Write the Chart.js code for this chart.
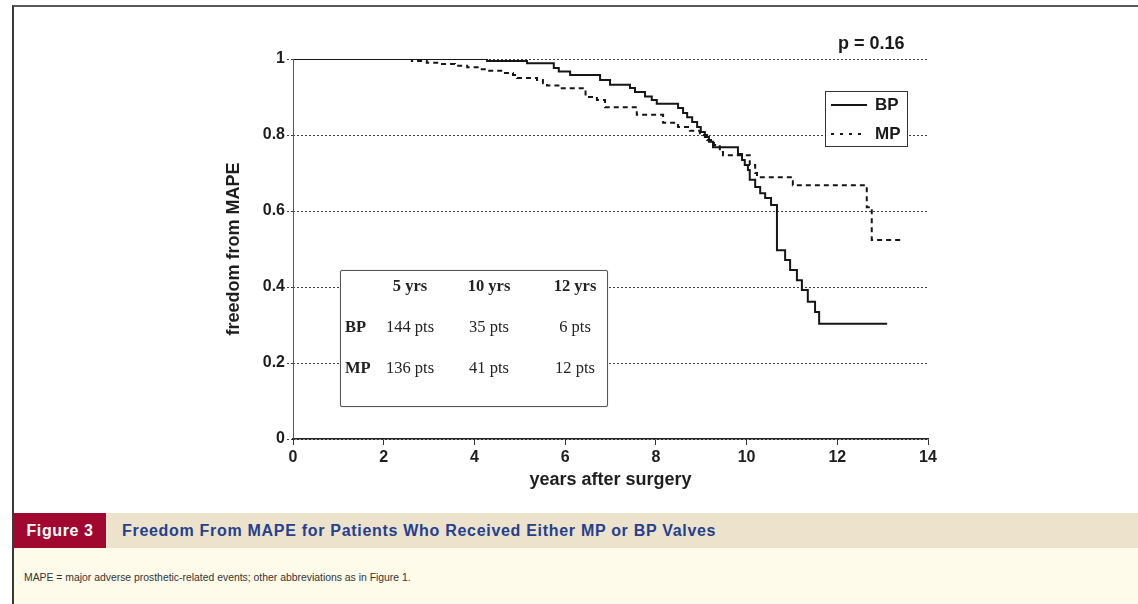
<!DOCTYPE html>
<html>
<head>
<meta charset="utf-8">
<script src="https://cdn.jsdelivr.net/npm/chart.js@4/dist/chart.umd.min.js"></script>
<style>
  html, body { margin: 0; padding: 0; }
  body { width: 1138px; height: 604px; position: relative; overflow: hidden; background: #fff;
         font-family: "Liberation Sans", Arial, sans-serif; }
  #frame { position: absolute; left: 12px; top: 5px; width: 1140px; height: 620px;
           border-left: 2px solid #3a3a3a; border-top: 2px solid #5a5a5a; box-sizing: border-box; }
  #km { position: absolute; left: 0; top: 0; }
  #pval { position: absolute; left: 838px; top: 33px; font: bold 18px "Liberation Sans", Arial, sans-serif; color: #1a1a1a; }
  #legend { position: absolute; left: 825px; top: 91px; width: 83px; height: 56px; box-sizing: border-box;
            border: 1px solid #333; background: #fff; }
  #legend .row { position: absolute; left: 5px; height: 20px; display: flex; align-items: center; }
  #legend svg { width: 36px; height: 6px; margin-right: 8px; }
  #legend span { font: bold 17px "Liberation Sans", Arial, sans-serif; color: #1a1a1a; }
  #atrisk { position: absolute; left: 340px; top: 270px; width: 268px; height: 137px; box-sizing: border-box;
            border: 1.5px solid #555; border-radius: 2px; background: #fff; box-shadow: 0 0 1px #999;
            font-family: "Liberation Serif", "Times New Roman", serif; font-size: 16.5px; color: #222; }
  #atrisk div { position: absolute; white-space: nowrap; transform: translateX(-50%); }
  #atrisk .b { font-weight: bold; }
  #band { position: absolute; left: 14px; top: 513px; width: 1130px; height: 35px; background: #ede3cc; }
  #figtag { position: absolute; left: 14px; top: 513px; width: 92px; height: 35px; background: #a1082f;
            color: #fff; font: bold 16px "Liberation Sans", Arial, sans-serif; letter-spacing: 0.6px;
            line-height: 35px; text-align: center; }
  #figtitle { position: absolute; left: 122px; top: 513px; color: #24408e;
              font: bold 16px "Liberation Sans", Arial, sans-serif; letter-spacing: 0.7px; line-height: 35px; white-space: nowrap; }
  #notes { position: absolute; left: 14px; top: 548px; width: 1130px; height: 60px; background: #fffbea; }
  #foot { position: absolute; left: 24px; top: 572px; font: 10.4px "Liberation Sans", Arial, sans-serif; color: #333; white-space: nowrap; }
</style>
</head>
<body>
<div id="frame"></div>
<canvas id="km" width="1138" height="604"></canvas>
<div id="pval"></div>
<div id="legend"></div>
<div id="atrisk"></div>
<div id="band"></div>
<div id="figtag">Figure 3</div>
<div id="figtitle">Freedom From MAPE for Patients Who Received Either MP or BP Valves</div>
<div id="notes"></div>
<div id="foot">MAPE = major adverse prosthetic-related events; other abbreviations as in Figure 1.</div>
<script>
// Kaplan-Meier freedom from MAPE, biological prostheses (BP)
const bpYears = [0, 4.28, 5.16, 5.75, 5.86, 6.11, 6.77, 6.99, 7.43, 7.54, 7.76, 7.91, 8.02, 8.49, 8.60, 8.69,
  8.80, 8.91, 8.99, 9.08, 9.17, 9.26, 9.81, 9.90, 9.96, 10.03, 10.07, 10.19, 10.30, 10.41, 10.54, 10.67,
  10.85, 10.96, 11.11, 11.22, 11.35, 11.51, 11.60, 13.10];
const bpFreedom = [1, 0.995, 0.989, 0.976, 0.967, 0.958, 0.945, 0.932, 0.924, 0.913, 0.901, 0.892, 0.882, 0.871,
  0.858, 0.847, 0.834, 0.821, 0.808, 0.795, 0.782, 0.768, 0.750, 0.734, 0.721, 0.708, 0.682, 0.663, 0.647,
  0.634, 0.616, 0.497, 0.471, 0.445, 0.418, 0.392, 0.361, 0.334, 0.303, 0.303];

// Kaplan-Meier freedom from MAPE, mechanical prostheses (MP)
const mpYears = [0, 2.62, 2.95, 3.24, 3.57, 3.84, 4.12, 4.28, 4.63, 4.85, 4.94, 5.38, 5.51, 5.60, 5.89, 6.45,
  6.70, 6.88, 7.58, 8.16, 8.49, 8.75, 8.97, 9.13, 9.28, 9.41, 9.48, 10.07, 10.19, 10.23, 11.02, 12.65, 12.76, 13.45];
const mpFreedom = [1, 0.995, 0.990, 0.987, 0.982, 0.978, 0.973, 0.969, 0.963, 0.958, 0.950, 0.945, 0.936, 0.930,
  0.923, 0.900, 0.892, 0.873, 0.853, 0.832, 0.821, 0.811, 0.800, 0.787, 0.774, 0.755, 0.747, 0.721, 0.700,
  0.689, 0.668, 0.610, 0.524, 0.524];

// Axis ticks
const xTicks = [0, 2, 4, 6, 8, 10, 12, 14];
const yTicks = [0, 0.2, 0.4, 0.6, 0.8, 1];

// Patients at risk
const riskHeaders = ['5 yrs', '10 yrs', '12 yrs'];
const bpAtRisk = ['144 pts', '35 pts', '6 pts'];
const mpAtRisk = ['136 pts', '41 pts', '12 pts'];

const seriesNames = ['BP', 'MP'];
const pValueText = 'p = 0.16';

const toPoints = (xs, ys) => xs.map((x, i) => ({ x: x, y: ys[i] }));
const ink = '#161616';
const tickFont = { family: '"Liberation Sans", Arial, sans-serif', size: 16, weight: 'bold' };
const titleFont = { family: '"Liberation Sans", Arial, sans-serif', size: 18, weight: 'bold' };

// Solid left axis line (the y border option carries the dotted grid dash, so the axis is stroked here)
const solidYAxis = {
  id: 'solidYAxis',
  afterDatasetsDraw(chart) {
    const { ctx } = chart;
    const y = chart.scales.y;
    ctx.save();
    ctx.setLineDash([]);
    ctx.strokeStyle = '#555';
    ctx.lineWidth = 1;
    ctx.beginPath();
    ctx.moveTo(y.right + 0.5, y.top);
    ctx.lineTo(y.right + 0.5, y.bottom);
    ctx.stroke();
    ctx.restore();
  }
};

new Chart(document.getElementById('km'), {
  type: 'line',
  data: {
    datasets: [
      { label: seriesNames[0], data: toPoints(bpYears, bpFreedom), stepped: 'before',
        borderColor: ink, borderWidth: 2, pointRadius: 0, fill: false },
      { label: seriesNames[1], data: toPoints(mpYears, mpFreedom), stepped: 'before',
        borderColor: ink, borderWidth: 2, borderDash: [5, 4], pointRadius: 0, fill: false }
    ]
  },
  options: {
    responsive: false,
    animation: false,
    devicePixelRatio: 1,
    layout: { padding: { left: 223, right: 210, top: 59, bottom: 113 } },
    plugins: { legend: { display: false }, tooltip: { enabled: false } },
    scales: {
      x: {
        type: 'linear', min: 0, max: 14,
        afterBuildTicks: (s) => { s.ticks = xTicks.map(v => ({ value: v })); },
        afterFit: (s) => { s.height = 52; },
        ticks: { color: '#1e1e1e', font: tickFont, padding: 3, maxRotation: 0 },
        grid: { drawOnChartArea: false, drawTicks: true, tickLength: 6, color: '#333', lineWidth: 1 },
        border: { display: true, color: '#222', width: 1.5 },
        title: { display: true, text: 'years after surgery', color: '#1e1e1e', font: titleFont, padding: 0 }
      },
      y: {
        type: 'linear', min: 0, max: 1,
        afterBuildTicks: (s) => { s.ticks = yTicks.map(v => ({ value: v })); },
        afterFit: (s) => { s.width = 70; },
        ticks: { color: '#1e1e1e', font: tickFont, padding: 2, callback: (v) => String(v) },
        grid: { drawOnChartArea: true, drawTicks: true, tickLength: 6, color: '#3c3c3c', lineWidth: 1,
                tickBorderDash: [2, 2] },
        border: { display: false, color: '#555', width: 1, dash: [2, 2] },
        title: { display: true, text: 'freedom from MAPE', color: '#1e1e1e', font: titleFont, padding: 0 }
      }
    }
  },
  plugins: [solidYAxis]
});

// p-value label
document.getElementById('pval').textContent = pValueText;

// legend box
const legend = document.getElementById('legend');
[[seriesNames[0], ''], [seriesNames[1], '3 6']].forEach(([name, dash], i) => {
  const row = document.createElement('div');
  row.className = 'row';
  row.style.top = (3 + i * 29) + 'px';
  row.innerHTML = '<svg viewBox="0 0 36 6"><line x1="0" y1="3" x2="36" y2="3" stroke="' + ink +
    '" stroke-width="2"' + (dash ? ' stroke-dasharray="' + dash + '"' : '') + '/></svg><span>' + name + '</span>';
  legend.appendChild(row);
});

// patients-at-risk table
const table = document.getElementById('atrisk');
const colX = [69, 148, 234];
const rowY = [5, 46, 87];
function cell(text, x, y, bold, left) {
  const d = document.createElement('div');
  d.textContent = text;
  if (bold) d.className = 'b';
  d.style.left = x + 'px';
  d.style.top = y + 'px';
  if (left) d.style.transform = 'none';
  table.appendChild(d);
}
riskHeaders.forEach((h, i) => cell(h, colX[i], rowY[0], true));
cell(seriesNames[0], 4, rowY[1], true, true);
cell(seriesNames[1], 4, rowY[2], true, true);
bpAtRisk.forEach((t, i) => cell(t, colX[i], rowY[1], false));
mpAtRisk.forEach((t, i) => cell(t, colX[i], rowY[2], false));
</script>
</body>
</html>
